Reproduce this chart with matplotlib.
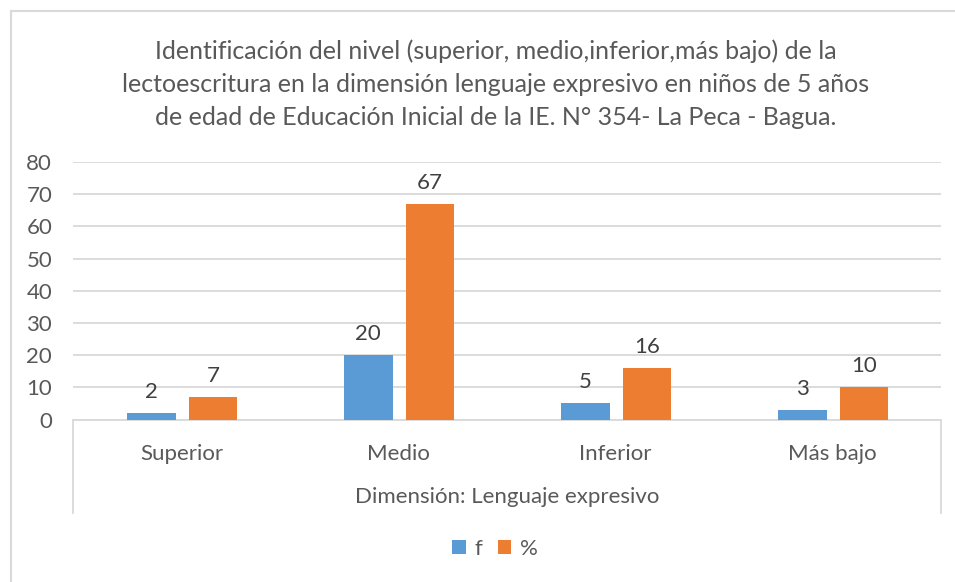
import matplotlib
matplotlib.use("Agg")
import matplotlib.pyplot as plt
from matplotlib.patches import Rectangle
import numpy as np

plt.rcParams['font.family'] = ['Lato', 'DejaVu Sans']

# data
categories = ["Superior", "Medio", "Inferior", "Más bajo"]
f_values = [2, 20, 5, 3]
pct_values = [7, 67, 16, 10]
series_names = ["f", "%"]
title = ("Identificación del nivel (superior, medio,inferior,más bajo) de la\n"
         "lectoescritura en la dimensión lenguaje expresivo en niños de 5 años\n"
         "de edad de Educación Inicial de la IE. N° 354- La Peca - Bagua.")
axis_title = "Dimensión: Lenguaje expresivo"

BLUE = "#5B9BD5"
ORANGE = "#ED7D31"
TEXT = "#595959"
GRID = "#D9D9D9"

W, H = 955, 582
fig = plt.figure(figsize=(W / 100, H / 100), dpi=100)

# plot area in pixel units of the reference
left, right, top, zero = 73, 941, 162, 419.5
ax = fig.add_axes([left / W, 1 - zero / H, (right - left) / W, (zero - top) / H])

x = np.arange(len(categories))
width = 0.225
b1 = ax.bar(x - 0.14, f_values, width, color=BLUE, label=series_names[0], zorder=3)
b2 = ax.bar(x + 0.145, pct_values, width, color=ORANGE, label=series_names[1], zorder=3)

ax.bar_label(b1, padding=8, fontsize=16, color="#404040")
ax.bar_label(b2, padding=8, fontsize=16, color="#404040")

ax.set_xlim(-0.5, len(categories) - 0.5)
ax.set_ylim(0, 80)
ax.set_yticks(range(0, 81, 10))
ax.yaxis.grid(True, color=GRID, linewidth=1.3, zorder=0)
ax.set_axisbelow(True)
ax.set_xticks(x)
ax.set_xticklabels(categories)
ax.tick_params(axis="x", length=0, pad=17.5, labelsize=16, labelcolor=TEXT)
ax.tick_params(axis="y", length=0, pad=15, labelsize=16, labelcolor=TEXT)
for s in ["top", "right", "left"]:
    ax.spines[s].set_visible(False)
ax.spines["bottom"].set_color(GRID)
ax.spines["bottom"].set_linewidth(1.3)

# multi-level category box edges below the axis
depth = (513 - zero) / (zero - top)
for xe in (0, 1):
    ax.plot([xe, xe], [0, -depth], transform=ax.transAxes, color=GRID,
            linewidth=1.3, clip_on=False)

fig.text(507 / W, 1 - 497 / H, axis_title, ha="center", va="center",
         fontsize=16, color=TEXT)
fig.text(496 / W, 1 - 84 / H, title, ha="center", va="center",
         fontsize=18, color=TEXT, linespacing=1.54)

fig.legend(handles=[b1, b2], labels=series_names, loc="center",
           bbox_to_anchor=(495 / W, 1 - 549 / H), ncol=2, frameon=False,
           fontsize=16, handlelength=0.6, handleheight=0.6,
           handletextpad=0.4, columnspacing=0.7, labelcolor=TEXT)

# chart border (runs off the right and bottom edges)
fig.add_artist(Rectangle((11 / W, -0.1), 2, 1 - 11 / H + 0.1,
                         transform=fig.transFigure, fill=False,
                         edgecolor=GRID, linewidth=1.5))

fig.savefig("out.png", dpi=100)
